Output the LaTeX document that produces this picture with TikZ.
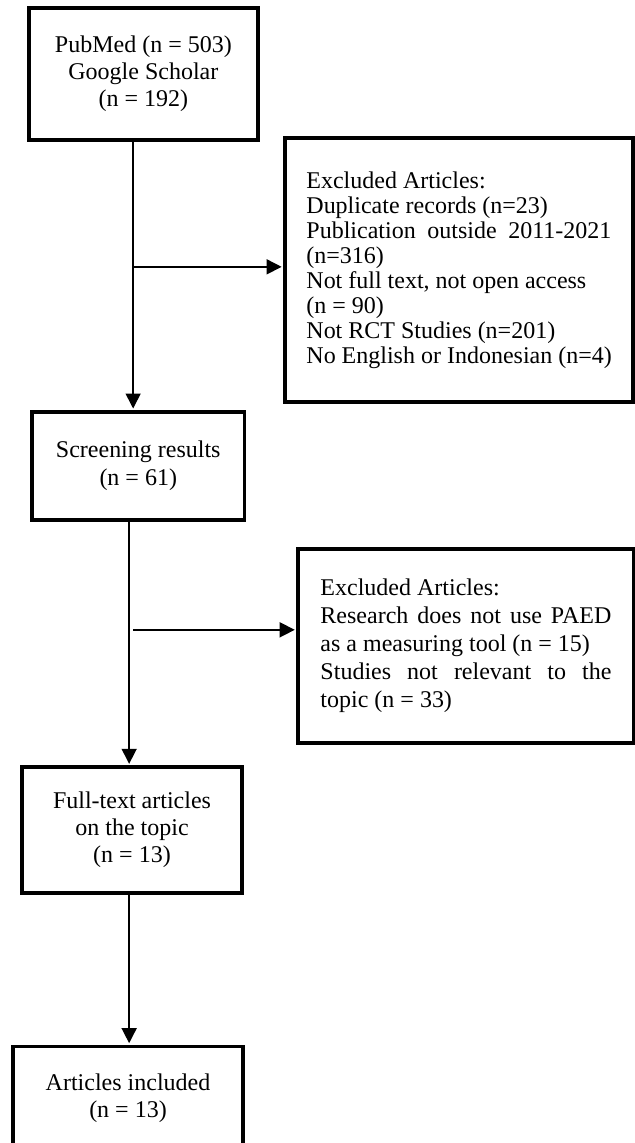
\documentclass[tikz,border=0pt]{standalone}
\usepackage{fontspec}
\setmainfont{Liberation Serif}
\usetikzlibrary{arrows.meta}

\begin{document}
\begin{tikzpicture}[
        font=\fontsize{12}{13.5}\selectfont,
        line width=0.75pt
    ]
    \tikzset{
        flowbox/.style = {rectangle, draw=black, line width=1.8pt, align=center, inner sep=0pt},
        exclbox/.style = {flowbox, align=left},
        link/.style = {line width=0.75pt, -{Triangle[length=7.5pt,width=7.5pt]}, shorten >=0.8pt},
    }
    \useasboundingbox (0,0) rectangle (11.16,-20.09);
    \node[flowbox,minimum width=4.02cm,minimum height=2.32cm] (search) at (2.52,-1.30)
        {PubMed (n = 503)\\ Google Scholar\\ (n = 192)};
    \node[exclbox,minimum width=6.12cm,minimum height=4.64cm,font=\fontsize{12}{12.5}\selectfont] (excl1) at (8.07,-4.75)
        {Excluded Articles:\\ Duplicate records (n=23)\\
         \makebox[152.5pt][s]{Publication outside 2011-2021}\\ (n=316)\\
         Not full text, not open access\\ (n = 90)\\
         Not RCT Studies (n=201)\\ No English or Indonesian (n=4)};
    \node[flowbox,minimum width=3.73cm,minimum height=1.90cm,font=\fontsize{12}{14}\selectfont] (screen) at (2.43,-8.19)
        {Screening results\\ (n = 61)};
    \node[exclbox,minimum width=5.90cm,minimum height=3.41cm,font=\fontsize{12}{14}\selectfont] (excl2) at (8.19,-11.35)
        {Excluded Articles:\\
         \makebox[145.5pt][s]{Research does not use PAED}\\
         as a measuring tool (n = 15)\\
         \makebox[145.5pt][s]{Studies not relevant to the}\\
         topic (n = 33)};
    \node[flowbox,minimum width=3.87cm,minimum height=2.21cm] (fulltext) at (2.32,-14.59)
        {Full-text articles\\ on the topic\\ (n = 13)};
    \node[flowbox,minimum width=4.04cm,minimum height=1.81cm] (included) at (2.25,-19.30)
        {Articles included\\ (n = 13)};
    % branch points
    \coordinate (b1) at (2.34,-4.69);
    \coordinate (b2) at (2.27,-11.07);
    \coordinate (b3) at (2.27,-16.00);
    \draw[link] (search.south -| b1) -- (screen.north -| b1);
    \draw[link] (b1) -- (b1 -| excl1.west);
    \draw[link] (screen.south -| b2) -- (fulltext.north -| b2);
    \draw[link] ([xshift=0.07cm]b2) -- (b2 -| excl2.west);
    \draw[link] (fulltext.south -| b3) -- (included.north -| b3);
\end{tikzpicture}
\end{document}
